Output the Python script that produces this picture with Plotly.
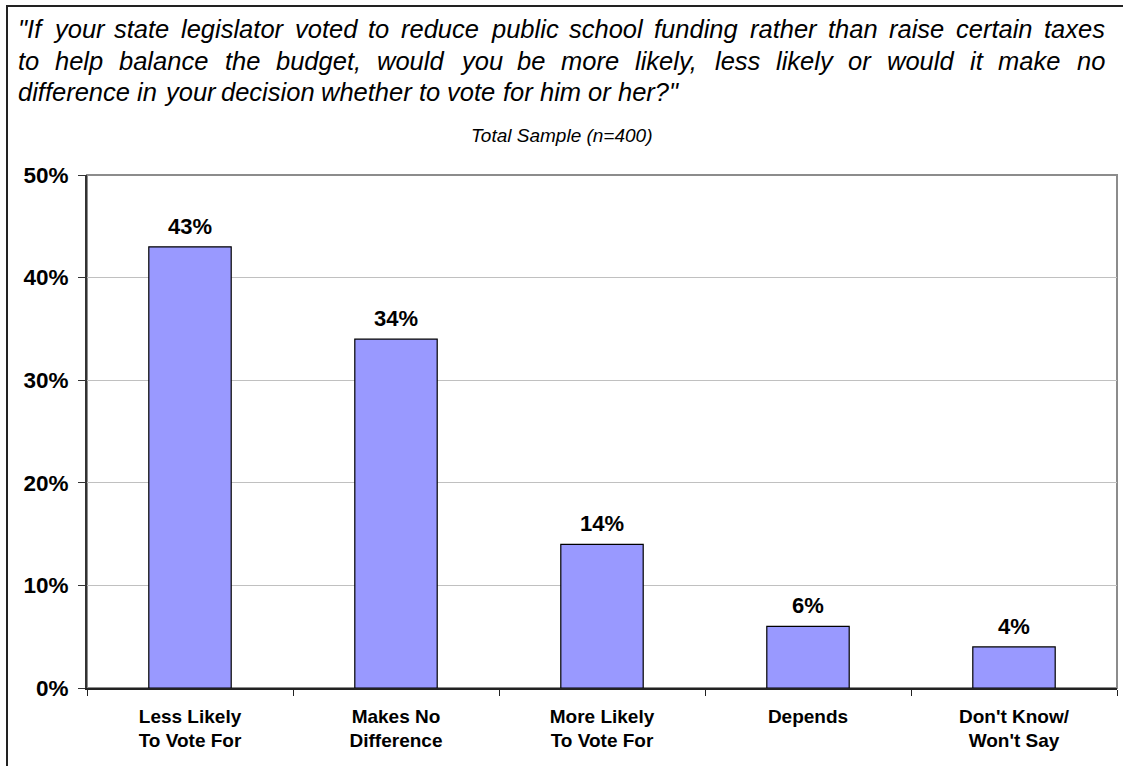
import plotly.graph_objects as go

# Survey results (percent of total sample)
categories = ["Less Likely<br>To Vote For", "Makes No<br>Difference", "More Likely<br>To Vote For",
              "Depends", "Don't Know/<br>Won't Say"]
values = [43, 34, 14, 6, 4]
y_ticks = [0, 10, 20, 30, 40, 50]
y_tick_labels = [f"{v}%" for v in y_ticks]

title_lines = [
    "\"If your state legislator voted to reduce public school funding rather than raise certain taxes",
    "to help balance the budget, would you be more likely, less likely or would it make no",
    "difference in your decision whether to vote for him or her?\"",
]
subtitle = "Total Sample (n=400)"

FONT = "Arial, Liberation Sans, Helvetica, sans-serif"
W, H = 1123, 766
ML, MR, MT, MB = 87, 6, 175, 78
PW, PH = W - ML - MR, H - MT - MB


def px_x(x):
    return (x - ML) / PW


def px_y(y):
    return (H - MB - y) / PH


# Arial advance widths (1/1000 em) for the glyphs used in the question text
ADV = {' ': 278, '"': 355, 'I': 278, ',': 278, '?': 556, 'a': 556, 'b': 556, 'c': 500,
       'd': 556, 'e': 556, 'f': 278, 'g': 556, 'h': 556, 'i': 222, 'k': 500, 'l': 222,
       'm': 833, 'n': 556, 'o': 556, 'p': 556, 'r': 333, 's': 500, 't': 278, 'u': 556,
       'v': 500, 'w': 722, 'x': 500, 'y': 500}


def text_width(s, size):
    return sum(ADV.get(c, 556) for c in s) * size / 1000.0


fig = go.Figure()
fig.add_trace(go.Bar(
    x=categories, y=values, width=0.4,
    marker=dict(color="#9999FF", line=dict(color="#000000", width=1.2)),
    hoverinfo="skip",
))

annotations = []
# value labels above each bar
for c, v in zip(categories, values):
    annotations.append(dict(x=c, y=v, xref="x", yref="y", text=f"<b>{v}%</b>",
                            showarrow=False, yanchor="bottom", yshift=6,
                            font=dict(family=FONT, size=22, color="#000000")))

# justified question text, word by word
T_SIZE = 25.5
LEFT, RIGHT = 17, 1104
baselines = [37, 69, 100]
for i, line in enumerate(title_lines):
    words = line.split(" ")
    widths = [text_width(w, T_SIZE) for w in words]
    if i < len(title_lines) - 1:
        gap = (RIGHT - LEFT - sum(widths)) / (len(words) - 1)
    else:
        gap = text_width(" ", T_SIZE)
    x = LEFT
    for w, ww in zip(words, widths):
        annotations.append(dict(x=px_x(x), y=px_y(baselines[i] - 8), xref="paper", yref="paper",
                                text=f"<i>{w}</i>", showarrow=False, xanchor="left",
                                yanchor="middle", borderpad=0,
                                font=dict(family=FONT, size=T_SIZE, color="#000000")))
        x += ww + gap

annotations.append(dict(x=px_x(562), y=px_y(135), xref="paper", yref="paper",
                        text=f"<i>{subtitle}</i>", showarrow=False, xanchor="center",
                        yanchor="middle", font=dict(family=FONT, size=19, color="#000000")))

shapes = [
    # outer frame
    dict(type="rect", xref="paper", yref="paper", x0=px_x(7), y0=px_y(H + 20),
         x1=px_x(W + 20), y1=px_y(6), line=dict(color="#222222", width=2), layer="below"),
    # plot area border (top/right)
    dict(type="rect", xref="paper", yref="paper", x0=0, y0=0, x1=1, y1=1,
         line=dict(color="#8c8c8c", width=2), layer="below"),
]

fig.update_layout(
    width=W, height=H,
    margin=dict(l=ML, r=MR, t=MT, b=MB),
    paper_bgcolor="#ffffff", plot_bgcolor="#ffffff",
    showlegend=False, bargap=0.6,
    annotations=annotations, shapes=shapes,
    font=dict(family=FONT, color="#000000"),
)
fig.update_yaxes(
    range=[0, 50], tickmode="array", tickvals=y_ticks, ticktext=y_tick_labels,
    showgrid=True, gridcolor="#c0c0c0", gridwidth=1,
    showline=True, linecolor="#333333", linewidth=2,
    ticks="outside", ticklen=7, tickcolor="#333333", tickwidth=1,
    tickfont=dict(family=FONT, size=22.5, color="#000000", weight="bold"),
    ticklabelstandoff=5, zeroline=False,
)
fig.update_xaxes(
    showline=True, linecolor="#222222", linewidth=1.5,
    ticks="outside", tickson="boundaries", ticklen=6, tickcolor="#222222", tickwidth=1,
    tickfont=dict(family=FONT, size=19, color="#000000", weight="bold"),
    ticklabelstandoff=10,
)

fig.write_html("out.html")
